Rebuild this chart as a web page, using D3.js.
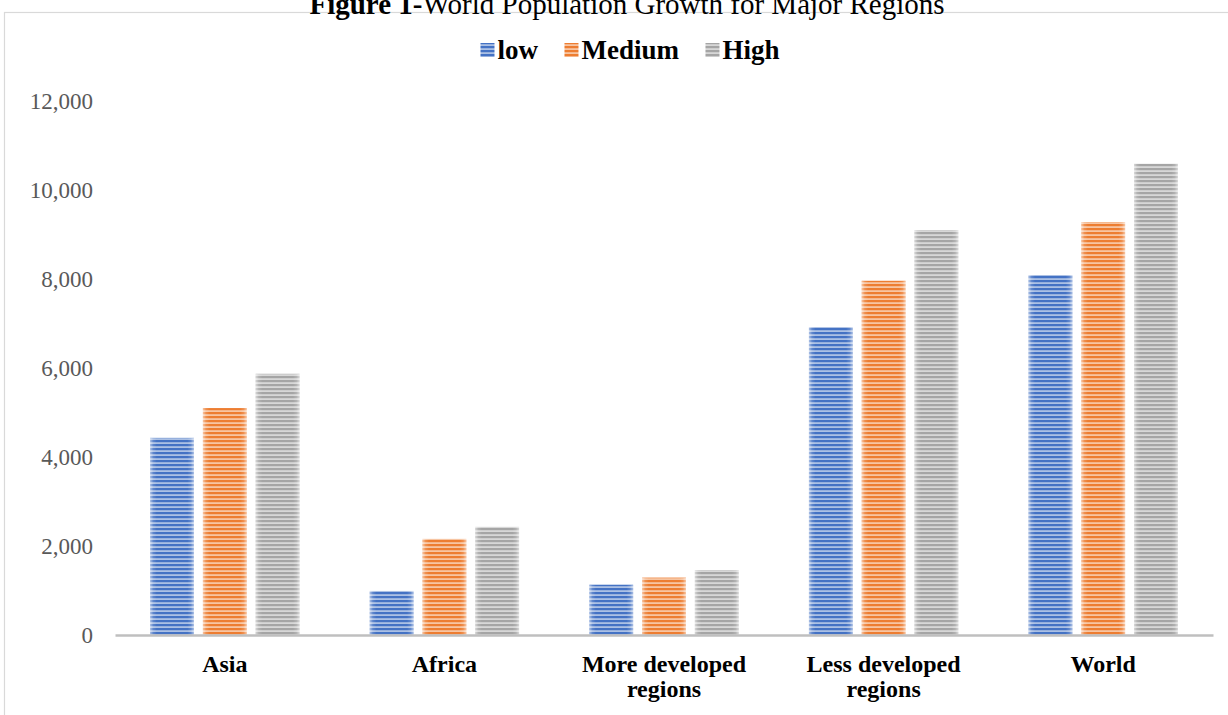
<!DOCTYPE html>
<html>
<head>
<meta charset="utf-8">
<script src="https://cdn.jsdelivr.net/npm/d3@7"></script>
<style>
  html, body { margin: 0; padding: 0; background: #fff; }
  svg { display: block; }
  text { font-family: "Liberation Serif", "Times New Roman", serif; }
</style>
</head>
<body>
<svg id="chart" width="1228" height="715"></svg>
<script>
// Projected population (millions) by region under three variants
const regions = ["Asia", "Africa", "More developed regions", "Less developed regions", "World"];
const lowValues = [4430, 990, 1130, 6920, 8090];
const mediumValues = [5100, 2160, 1290, 7960, 9280];
const highValues = [5870, 2430, 1460, 9100, 10590];
const seriesNames = ["low", "Medium", "High"];
const seriesColors = ["#4472C4", "#ED7D31", "#A5A5A5"];
const yTicks = [0, 2000, 4000, 6000, 8000, 10000, 12000];

const seriesValues = [lowValues, mediumValues, highValues];
const rows = regions.map((r, i) => ({
  region: r,
  values: seriesNames.map((s, k) => ({ key: s, idx: k, value: seriesValues[k][i] }))
}));

const W = 1228, H = 715;
const margin = { left: 115, right: 15, top: 101, bottom: 80 };
const plotRight = W - margin.right;
const plotBottom = H - margin.bottom;

const svg = d3.select("#chart");
const defs = svg.append("defs");

// Striped fills for each series
seriesColors.forEach((c, k) => {
  const light = d3.interpolateRgb(c, "#ffffff")(0.55);
  const p = defs.append("pattern")
    .attr("id", "stripe" + k)
    .attr("patternUnits", "userSpaceOnUse")
    .attr("width", 8).attr("height", 4);
  p.append("rect").attr("width", 8).attr("height", 4).attr("fill", light);
  p.append("rect").attr("width", 8).attr("height", 2.2).attr("fill", c);
});

// Soft fade at the left and right edges of each bar
const fade = defs.append("linearGradient").attr("id", "edgeFade")
  .attr("x1", "0%").attr("x2", "100%").attr("y1", "0%").attr("y2", "0%");
[[0, 0.55], [0.07, 0.15], [0.15, 0], [0.85, 0], [0.93, 0.15], [1, 0.55]].forEach(([o, a]) => {
  fade.append("stop").attr("offset", o).attr("stop-color", "#fff").attr("stop-opacity", a);
});

// Chart frame
svg.append("rect")
  .attr("x", 4.5).attr("y", 12.5)
  .attr("width", 1240).attr("height", 720)
  .attr("fill", "none").attr("stroke", "#d9d9d9").attr("stroke-width", 1.2);

// Title
const title = svg.append("text")
  .attr("x", 627).attr("y", 14)
  .attr("text-anchor", "middle")
  .attr("font-size", 29).attr("fill", "#000");
title.append("tspan").attr("font-weight", "bold").text("Figure 1-");
title.append("tspan").text("World Population Growth for Major Regions");

// Scales
const x0 = d3.scaleBand()
  .domain(regions)
  .range([margin.left, plotRight])
  .paddingInner(0.32).paddingOuter(0.16);
const x1 = d3.scaleBand()
  .domain(seriesNames)
  .range([0, x0.bandwidth()])
  .paddingInner(0.17);
const y = d3.scaleLinear().domain([0, 12000]).range([plotBottom, margin.top]);

// Y axis labels
const yAxis = svg.append("g")
  .attr("transform", `translate(${margin.left - 22},0)`)
  .call(d3.axisLeft(y).tickValues(yTicks).tickSize(0).tickPadding(0).tickFormat(d3.format(",")));
yAxis.select(".domain").remove();
yAxis.selectAll("text")
  .attr("font-family", "Liberation Serif, Times New Roman, serif")
  .attr("font-size", 23).attr("fill", "#595959");

// Bars
const groups = svg.append("g").selectAll("g")
  .data(rows).join("g")
  .attr("transform", d => `translate(${x0(d.region)},0)`);

groups.selectAll("rect.bar")
  .data(d => d.values).join("rect")
  .attr("class", "bar")
  .attr("x", d => x1(d.key))
  .attr("y", d => y(d.value))
  .attr("width", x1.bandwidth())
  .attr("height", d => y(0) - y(d.value))
  .attr("fill", d => `url(#stripe${d.idx})`);

groups.selectAll("rect.fade")
  .data(d => d.values).join("rect")
  .attr("class", "fade")
  .attr("x", d => x1(d.key))
  .attr("y", d => y(d.value))
  .attr("width", x1.bandwidth())
  .attr("height", d => y(0) - y(d.value))
  .attr("fill", "url(#edgeFade)");

// X axis
const xAxis = svg.append("g")
  .attr("transform", `translate(0,${plotBottom})`)
  .call(d3.axisBottom(x0).tickSize(0).tickPadding(20));
xAxis.select(".domain")
  .attr("stroke", "#bfbfbf").attr("stroke-width", 2.5);
xAxis.selectAll("text")
  .attr("font-family", "Liberation Serif, Times New Roman, serif")
  .attr("font-size", 24).attr("font-weight", "bold").attr("fill", "#000")
  .call(wrap, 200);

function wrap(texts, width) {
  texts.each(function () {
    const t = d3.select(this);
    const words = t.text().split(/\s+/);
    const yAttr = t.attr("y"), dy = parseFloat(t.attr("dy")) || 0;
    t.text(null);
    let line = [], lineNo = 0;
    let tspan = t.append("tspan").attr("x", 0).attr("y", yAttr).attr("dy", dy + "em");
    words.forEach(w => {
      line.push(w);
      tspan.text(line.join(" "));
      if (tspan.node().getComputedTextLength() > width && line.length > 1) {
        line.pop();
        tspan.text(line.join(" "));
        line = [w];
        lineNo++;
        tspan = t.append("tspan").attr("x", 0).attr("y", yAttr)
          .attr("dy", (lineNo * 1.05 + dy) + "em").text(w);
      }
    });
  });
}

// Legend
const legend = svg.append("g").attr("transform", "translate(0,50)");
const items = legend.selectAll("g").data(seriesNames).join("g");
items.append("rect")
  .attr("y", -7).attr("width", 14).attr("height", 14)
  .attr("fill", (d, i) => `url(#stripe${i})`);
items.append("text")
  .attr("x", 17).attr("y", 9)
  .attr("font-size", 27).attr("font-weight", "bold").attr("fill", "#000")
  .text(d => d);
// lay out legend items centred above the plot
let widths = [];
items.each(function () { widths.push(this.getBBox().width); });
const gap = 26;
const total = d3.sum(widths) + gap * (widths.length - 1);
let cx = 630 - total / 2;
items.attr("transform", (d, i) => {
  const tx = cx; cx += widths[i] + gap; return `translate(${tx},0)`;
});
</script>
</body>
</html>
